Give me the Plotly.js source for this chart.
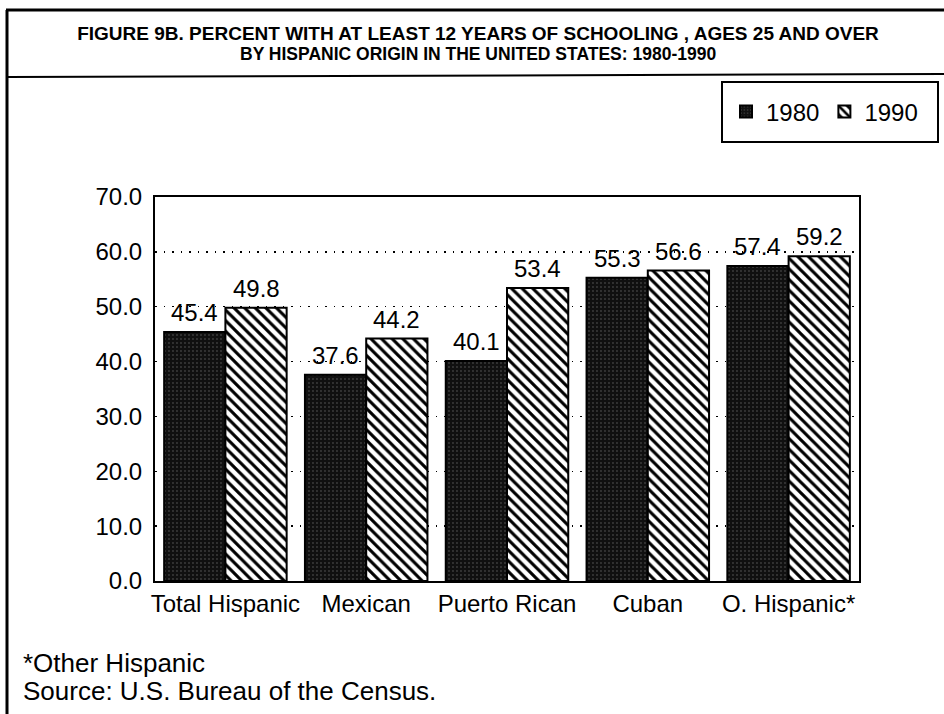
<!DOCTYPE html>
<html>
<head>
<meta charset="utf-8">
<script src="https://cdn.plot.ly/plotly-3.0.1.min.js"></script>
<style>
  html, body { margin: 0; padding: 0; background: #ffffff; }
  #chart { width: 944px; height: 714px; }
</style>
</head>
<body>
<div id="chart"></div>
<script>
// ---- data ----
const categories = ['Total Hispanic', 'Mexican', 'Puerto Rican', 'Cuban', 'O. Hispanic*'];
const values1980 = [45.4, 37.6, 40.1, 55.3, 57.4];
const values1990 = [49.8, 44.2, 53.4, 56.6, 59.2];
const seriesNames = ['1980', '1990'];
const yTicks = [0, 10, 20, 30, 40, 50, 60, 70];
const titleLine1 = 'FIGURE 9B. PERCENT WITH AT LEAST 12 YEARS OF SCHOOLING , AGES 25 AND OVER';
const titleLine2 = 'BY HISPANIC ORIGIN IN THE UNITED STATES: 1980-1990';
const footnotes = ['*Other Hispanic', 'Source: U.S. Bureau of the Census.'];

// ---- layout constants (pixels) ----
const W = 944, H = 714;
const plotL = 155, plotR = 859, plotT = 197, plotB = 581;
const plotW = plotR - plotL, plotH = plotB - plotT;
const bargap = 0.13;
const FONT = '"Liberation Sans", Arial, Helvetica, sans-serif';

const px2x = px => (px - plotL) / plotW;
const px2y = py => (plotB - py) / plotH;

const trace1980 = {
  type: 'bar',
  name: seriesNames[0],
  x: categories,
  y: values1980,
  marker: {
    color: '#111111',
    line: { color: '#000000', width: 2 },
    pattern: { shape: '.', bgcolor: '#101010', fgcolor: '#3c3c3c', size: 4, solidity: 0.18 }
  },
  hoverinfo: 'x+y'
};
const trace1990 = {
  type: 'bar',
  name: seriesNames[1],
  x: categories,
  y: values1990,
  marker: {
    color: '#ffffff',
    line: { color: '#000000', width: 2 },
    pattern: { shape: '\\', bgcolor: '#ffffff', fgcolor: '#000000', size: 7.5, solidity: 0.42 }
  },
  hoverinfo: 'x+y'
};

const barW = (plotW / categories.length) * (1 - bargap) / 2;
const labelFont = { family: FONT, size: 24, color: '#000000' };
const annotations = [];
[values1980, values1990].forEach((vals, s) => {
  vals.forEach((v, i) => {
    annotations.push({
      x: categories[i], y: v, xref: 'x', yref: 'y',
      text: v.toFixed(1), showarrow: false,
      xanchor: 'center', yanchor: 'bottom',
      xshift: (s === 0 ? -1 : 1) * barW / 2, yshift: 4,
      font: labelFont
    });
  });
});
annotations.push({
  xref: 'paper', yref: 'paper', x: px2x(478), y: px2y(54),
  xanchor: 'center', yanchor: 'middle', showarrow: false,
  text: '<b>' + titleLine2 + '</b>',
  font: { family: FONT, size: 17.5, color: '#000000' }
});
footnotes.forEach((t, i) => {
  annotations.push({
    xref: 'paper', yref: 'paper', x: px2x(21), y: px2y(663 + i * 28),
    xanchor: 'left', yanchor: 'middle', showarrow: false,
    text: t, font: { family: FONT, size: 26, color: '#000000' }
  });
});

const shapes = [
  // outer frame: top and left edges
  { type: 'line', xref: 'paper', yref: 'paper', x0: px2x(6), x1: px2x(944), y0: px2y(10), y1: px2y(10), line: { color: '#000', width: 3 } },
  { type: 'line', xref: 'paper', yref: 'paper', x0: px2x(7), x1: px2x(7), y0: px2y(10), y1: px2y(714), line: { color: '#000', width: 3 } },
  // separator under the title
  { type: 'line', xref: 'paper', yref: 'paper', x0: px2x(7), x1: px2x(944), y0: px2y(77), y1: px2y(74), line: { color: '#000', width: 2 } },
  // legend frame
  { type: 'rect', xref: 'paper', yref: 'paper', x0: px2x(722), x1: px2x(938), y0: px2y(82), y1: px2y(142), line: { color: '#000', width: 2 }, fillcolor: 'rgba(0,0,0,0)' }
];

const layout = {
  width: W, height: H,
  margin: { l: plotL, r: W - plotR, t: plotT, b: H - plotB, pad: 0 },
  paper_bgcolor: '#ffffff', plot_bgcolor: '#ffffff',
  font: { family: FONT, color: '#000000', size: 24 },
  title: {
    text: '<b>' + titleLine1 + '</b>',
    font: { family: FONT, size: 19, color: '#000000' },
    xref: 'container', yref: 'container',
    x: 478 / W, y: 1 - 33.5 / H, xanchor: 'center', yanchor: 'middle'
  },
  barmode: 'group',
  bargap: bargap, bargroupgap: 0,
  showlegend: true,
  legend: {
    orientation: 'h',
    xref: 'paper', yref: 'paper',
    x: px2x(726), y: px2y(112), xanchor: 'left', yanchor: 'middle',
    borderwidth: 0, bgcolor: 'rgba(0,0,0,0)',
    font: { family: FONT, size: 24, color: '#000000' },
    traceorder: 'normal', itemwidth: 30
  },
  xaxis: {
    type: 'category',
    showline: true, linecolor: '#000000', linewidth: 2, mirror: true,
    ticks: '', showgrid: false, zeroline: false,
    tickfont: { family: FONT, size: 24, color: '#000000' }
  },
  yaxis: {
    range: [0, 70], tickvals: yTicks, tickformat: '.1f',
    showline: true, linecolor: '#000000', linewidth: 2, mirror: true,
    ticks: 'outside', ticklen: 6, tickcolor: 'rgba(0,0,0,0)',
    showgrid: true, gridcolor: '#000000', gridwidth: 1.5, griddash: '1.5px,7px',
    zeroline: false,
    tickfont: { family: FONT, size: 24, color: '#000000' }
  },
  annotations: annotations,
  shapes: shapes
};

Plotly.newPlot('chart', [trace1980, trace1990], layout, { displayModeBar: false, staticPlot: true });
</script>
</body>
</html>
